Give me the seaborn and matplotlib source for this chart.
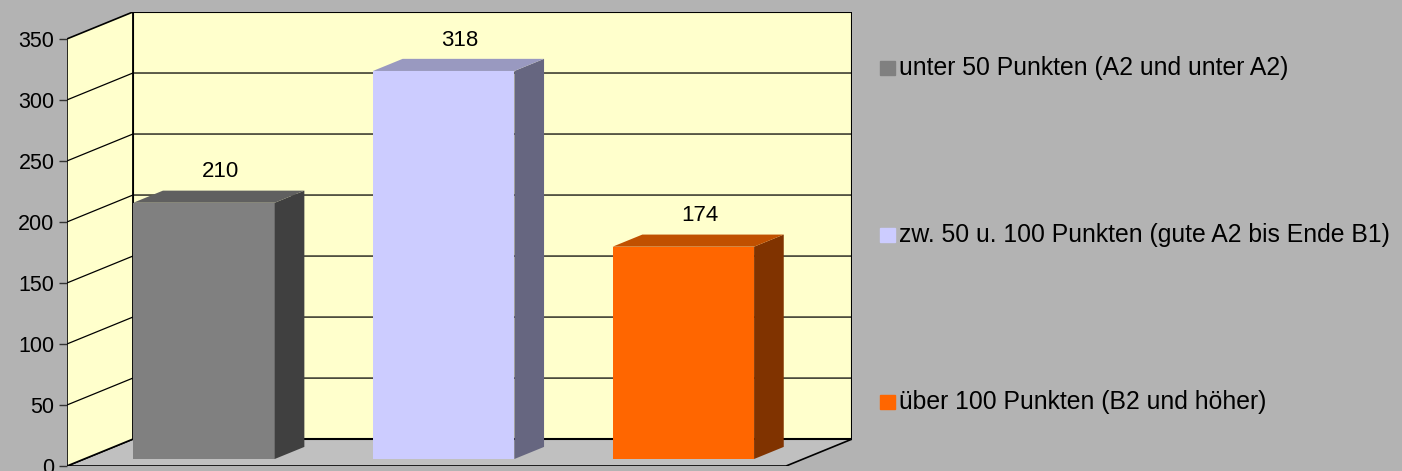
import matplotlib
matplotlib.use("Agg")
import matplotlib.pyplot as plt
import seaborn as sns
from matplotlib.patches import Rectangle

categories = ["unter 50 Punkten (A2 und unter A2)",
              "zw. 50 u. 100 Punkten (gute A2 bis Ende B1)",
              "über 100 Punkten (B2 und höher)"]
counts = [210, 318, 174]
yticks = [0, 50, 100, 150, 200, 250, 300, 350]

front_colors = ["#808080", "#ccccff", "#ff6600"]
top_colors = ["#606060", "#9999c0", "#c05000"]
side_colors = ["#404040", "#666680", "#803300"]

BG = "#b3b3b3"
WALL = "#ffffcc"
FLOOR = "#c0c0c0"

# fake 3d: one unit of depth moves this far right (categories) and up (values)
DX, DY = 0.275, 22.05
D0, D1 = 0.26, 0.71   # front and back of the bars


def proj(x, v, d):
    return x + d * DX, v + d * DY


def poly(pts):
    xs, ys = zip(*pts)
    return list(xs), list(ys)


sns.set_theme(style="white", rc={"figure.facecolor": BG, "axes.facecolor": "none"})
plt.rcParams["font.family"] = ["Liberation Sans", "DejaVu Sans"]

W, H = 1402, 471
fig = plt.figure(figsize=(W / 100, H / 100), dpi=100)
ax = fig.add_axes([67 / W, 5 / H, 785 / W, 454 / H])

sns.barplot(x=categories, y=counts, hue=categories, palette=front_colors,
            saturation=1, width=0.59, legend=False, ax=ax, zorder=3)
bars = [p for p in ax.patches if isinstance(p, Rectangle)]

top = yticks[-1]
# walls and floor
ax.fill(*poly([proj(-0.5, 0, 0), proj(2.5, 0, 0), proj(2.5, 0, 1), proj(-0.5, 0, 1)]),
        color=FLOOR, ec="black", lw=1.2, zorder=0)
ax.fill(*poly([proj(-0.5, 0, 1), proj(2.5, 0, 1), proj(2.5, top, 1), proj(-0.5, top, 1)]),
        color=WALL, ec="black", lw=1.5, zorder=0)
ax.fill(*poly([proj(-0.5, 0, 0), proj(-0.5, 0, 1), proj(-0.5, top, 1), proj(-0.5, top, 0)]),
        color=WALL, ec="black", lw=1.2, zorder=0)
for v in yticks[1:-1]:
    ax.plot(*poly([proj(-0.5, v, 0), proj(-0.5, v, 1), proj(2.5, v, 1)]),
            color="black", lw=0.9, zorder=1)

for i, p in enumerate(bars):
    x0, w, h = p.get_x(), p.get_width(), p.get_height()
    p.set_x(x0 + D0 * DX)
    p.set_y(D0 * DY)
    p.set_linewidth(0)
    ax.fill(*poly([proj(x0 + w, 0, D0), proj(x0 + w, 0, D1), proj(x0 + w, h, D1), proj(x0 + w, h, D0)]),
            color=side_colors[i], lw=0, zorder=3)
    ax.fill(*poly([proj(x0, h, D0), proj(x0 + w, h, D0), proj(x0 + w, h, D1), proj(x0, h, D1)]),
            color=top_colors[i], lw=0, zorder=3)
    ax.text(x0 + w / 2 + 0.14, h + 31, f"{h:.0f}", ha="center", va="center",
            fontsize=16, color="black", zorder=4)

ax.set_xlim(-0.5, 2.5 + DX)
ax.set_ylim(0, top + DY)
ax.set_yticks(yticks)
ax.set_xticks([])
ax.set_xlabel("")
ax.set_ylabel("")
ax.tick_params(axis="y", direction="out", length=6, width=1, color="#333333",
               labelsize=15.5, labelcolor="black", pad=3, left=True)
for s in ax.spines.values():
    s.set_visible(False)

# legend on the right
leg_y = [68, 235, 402]
for lab, col, y in zip(categories, front_colors, leg_y):
    fig.add_artist(Rectangle((880 / W, 1 - (y + 7) / H), 15 / W, 14 / H,
                             transform=fig.transFigure, color=col))
    fig.text(899 / W, 1 - y / H, lab, va="center", ha="left", fontsize=17.8, color="black")

fig.savefig("out.png", dpi=100, facecolor=BG)
